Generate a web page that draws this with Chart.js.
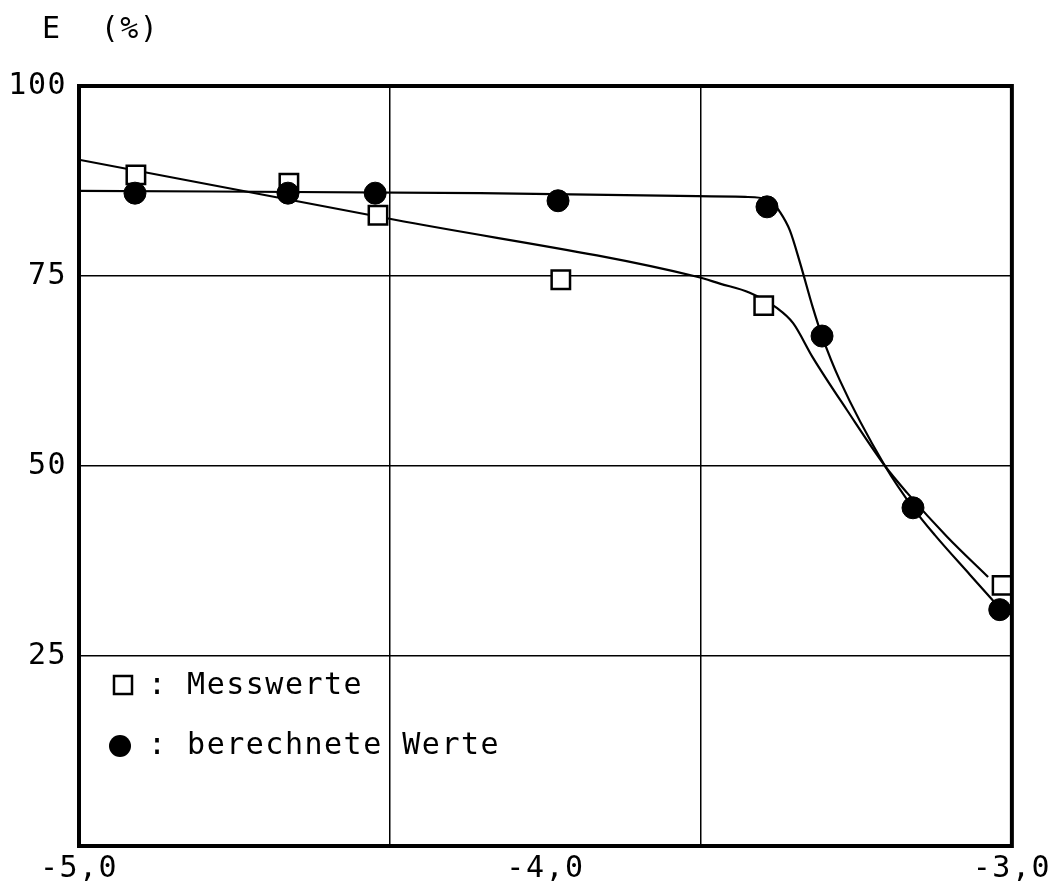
<!DOCTYPE html>
<html>
<head>
<meta charset="utf-8">
<script src="https://cdn.jsdelivr.net/npm/chart.js@4"></script>
<style>body{margin:0;background:#fff}</style>
</head>
<body>
<canvas id="chart" width="1056" height="886"></canvas>
<script>
// measured points (Messwerte) and calculated points (berechnete Werte)
const xMess = [-4.878, -4.550, -4.359, -3.967, -3.532, -3.021];
const yMess = [88.3, 87.2, 83.0, 74.5, 71.1, 34.3];
const xCalc = [-4.880, -4.552, -4.365, -3.973, -3.525, -3.407, -3.212, -3.026];
const yCalc = [85.9, 85.9, 85.9, 84.9, 84.1, 67.1, 44.5, 31.1];

// hand drawn curves
const xMessCurve = [-5.0, -4.323, -3.675, -3.626, -3.562, -3.504, -3.469, -3.427, -3.354, -3.272, -3.225, -3.139, -3.051];
const yMessCurve = [90.3, 82.4, 74.9, 74.0, 72.8, 70.8, 68.8, 64.3, 57.4, 50.0, 46.5, 40.7, 35.4];
const xCalcCurve = [-5.0, -4.140, -3.675, -3.572, -3.519, -3.497, -3.476, -3.454, -3.427, -3.407, -3.369, -3.272, -3.212, -3.165, -3.090, -3.026];
const yCalcCurve = [86.2, 85.9, 85.5, 85.4, 85.0, 83.4, 81.0, 76.7, 70.9, 67.1, 61.3, 50.0, 44.5, 40.9, 35.7, 31.3];

// axes
const xTickLabels = [-5, -4, -3];
const xGridLines = [-4.333, -3.667];
const yTicks = [0, 25, 50, 75, 100];
const yTickLabels = [25, 50, 75, 100];

const FONT = '"DejaVu Sans Mono", monospace';
const SPACING = "1.5px";
Chart.defaults.font.family = FONT;
Chart.defaults.font.size = 30;
Chart.defaults.color = "#000";

const toPoints = (xs, ys) => xs.map((x, i) => ({ x: x, y: ys[i] }));

// plotter look: spaced letters, frame, legend and axis title
const plotterPlugin = {
  id: "plotter",
  beforeLayout(chart) {
    chart.ctx.letterSpacing = SPACING;
  },
  beforeDraw(chart) {
    chart.ctx.letterSpacing = SPACING;
  },
  afterDraw(chart) {
    const ctx = chart.ctx;
    const a = chart.chartArea;
    ctx.save();
    ctx.letterSpacing = SPACING;
    ctx.strokeStyle = "#000";
    ctx.lineWidth = 4;
    ctx.strokeRect(a.left, a.top, a.right - a.left, a.bottom - a.top);

    ctx.fillStyle = "#000";
    ctx.font = "30px " + FONT;
    ctx.textBaseline = "middle";
    ctx.textAlign = "left";

    // axis title
    ctx.fillText("E  (%)", 42, 30);

    // legend
    ctx.lineWidth = 2.5;
    ctx.fillStyle = "#fff";
    ctx.fillRect(a.left + 35, 676, 18, 18);
    ctx.strokeRect(a.left + 35, 676, 18, 18);
    ctx.fillStyle = "#000";
    ctx.fillText(": Messwerte", a.left + 69, 686);

    ctx.beginPath();
    ctx.arc(a.left + 41, 746, 11, 0, Math.PI * 2);
    ctx.fill();
    ctx.fillText(": berechnete Werte", a.left + 69, 746);
    ctx.restore();
  },
};

const ctx = document.getElementById("chart").getContext("2d");
new Chart(ctx, {
  type: "line",
  data: {
    datasets: [
      {
        label: "Messwerte Kurve",
        data: toPoints(xMessCurve, yMessCurve),
        borderColor: "#000",
        borderWidth: 2.2,
        pointRadius: 0,
        cubicInterpolationMode: "monotone",
        order: 3,
      },
      {
        label: "berechnete Kurve",
        data: toPoints(xCalcCurve, yCalcCurve),
        borderColor: "#000",
        borderWidth: 2.2,
        pointRadius: 0,
        cubicInterpolationMode: "monotone",
        order: 3,
      },
      {
        label: "Messwerte",
        data: toPoints(xMess, yMess),
        showLine: false,
        pointStyle: "rect",
        pointRadius: 13,
        pointBackgroundColor: "#fff",
        pointBorderColor: "#000",
        pointBorderWidth: 2.5,
        order: 2,
      },
      {
        label: "berechnete Werte",
        data: toPoints(xCalc, yCalc),
        showLine: false,
        pointStyle: "circle",
        pointRadius: 11,
        pointBackgroundColor: "#000",
        pointBorderColor: "#000",
        pointBorderWidth: 1,
        order: 1,
      },
    ],
  },
  options: {
    responsive: false,
    animation: false,
    layout: { padding: { top: 86, right: 44, left: 0, bottom: 0 } },
    plugins: {
      legend: { display: false },
      tooltip: { enabled: false },
    },
    scales: {
      x: {
        type: "linear",
        min: -5,
        max: -3,
        afterBuildTicks: (s) => {
          s.ticks = [-5, -4.333, -4, -3.667, -3].map((v) => ({ value: v }));
        },
        afterFit: (s) => {
          s.height = 40;
        },
        border: { display: false },
        grid: {
          drawTicks: false,
          lineWidth: 1.5,
          color: (c) => (c.tick && xGridLines.includes(c.tick.value) ? "#000" : "rgba(0,0,0,0)"),
        },
        ticks: {
          autoSkip: false,
          maxRotation: 0,
          padding: 5,
          callback: (v) => (xTickLabels.includes(v) ? v.toFixed(1).replace(".", ",") : ""),
        },
      },
      y: {
        min: 0,
        max: 100,
        afterBuildTicks: (s) => {
          s.ticks = yTicks.map((v) => ({ value: v }));
        },
        afterFit: (s) => {
          s.width = 79;
        },
        border: { display: false },
        grid: {
          drawTicks: false,
          lineWidth: 1.5,
          color: (c) => (c.tick && c.tick.value > 0 && c.tick.value < 100 ? "#000" : "rgba(0,0,0,0)"),
        },
        ticks: {
          padding: 12,
          callback: (v) => (yTickLabels.includes(v) ? String(v) : ""),
        },
      },
    },
  },
  plugins: [plotterPlugin],
});
</script>
</body>
</html>
